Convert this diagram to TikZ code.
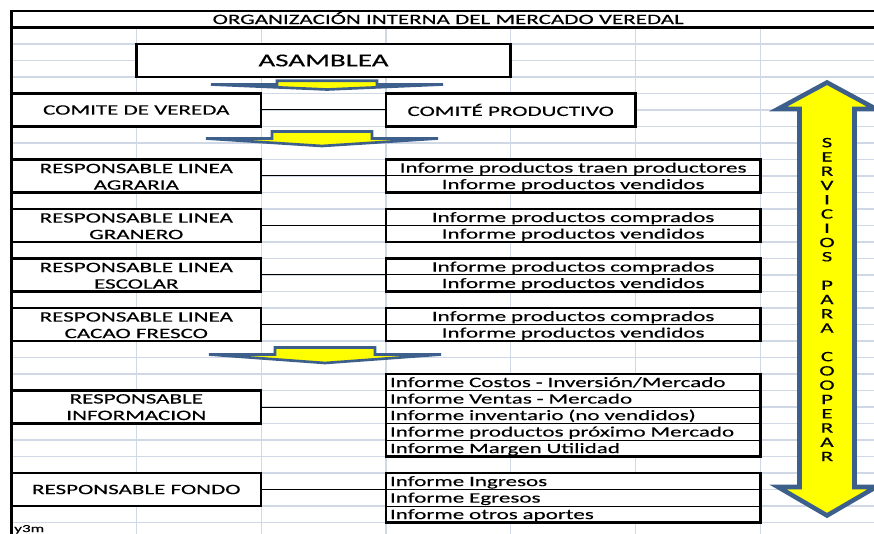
\documentclass[tikz,border=0pt]{standalone}
\usepackage{fontspec}
\setmainfont{Carlito}[FakeStretch=1.6,FakeBold=0.25]
\usetikzlibrary{positioning}

\definecolor{gridgray}{RGB}{208,215,229}
\definecolor{arrowblue}{RGB}{61,95,140}
\definecolor{arrowyellow}{RGB}{255,255,0}

\tikzset{
  cellbox/.style={draw,line width=1.9pt,fill=white,inner sep=0pt,outer sep=0pt,
    minimum width=187.2pt,minimum height=24.75pt,align=center,
    font=\fontsize{10.8}{12.4}\selectfont},
  twoline/.style={text height=22.6pt,text depth=2.15pt},
  rowcell/.style={draw,line width=0.75pt,fill=white,inner xsep=3pt,inner ysep=0pt,
    outer sep=0pt,minimum width=280.8pt,minimum height=12.375pt,text width=274.8pt,
    text height=9.8pt,text depth=2.575pt,align=center,
    font=\fontsize{10.8}{12.4}\selectfont},
  titlecell/.style={draw,line width=1.9pt,inner sep=0pt,outer sep=0pt,
    minimum width=655.1pt,minimum height=12.375pt,
    text height=9.8pt,text depth=2.575pt,font=\fontsize{10.8}{12.4}\selectfont},
  rowframe/.style={draw,line width=1.9pt},
  link/.style={draw,line width=0.75pt},
  gridline/.style={draw=gridgray,line width=0.9pt},
  flatarrow/.style={draw=arrowblue,fill=arrowyellow,line width=2pt,line join=miter},
  bigarrow/.style={draw=arrowblue,fill=arrowyellow,line width=3.4pt,line join=miter},
}

\begin{document}
\begin{tikzpicture}[x=0.75pt,y=-0.75pt]
\useasboundingbox (0,0) rectangle (874,534);
% hoja de calculo
\foreach \c in {1,...,6}
  \draw[gridline] ({11.5+124.8*\c},27.5) -- ({11.5+124.8*\c},534);
\foreach \k in {2,...,32}
  \draw[gridline] (11.5,{11+16.5*\k}) -- (874,{11+16.5*\k});
\node[titlecell] (titulo) at (448.25,19.25) {ORGANIZACIÓN INTERNA DEL MERCADO VEREDAL};
\draw[rowframe] (11.5,11) -- (11.5,534);

\node[cellbox,minimum width=280.8pt,font=\fontsize{13.6}{15}\selectfont] (asamblea) at (323.5,60.5) {ASAMBLEA};
\node[cellbox] (vereda) at (136.3,110) {COMITE DE VEREDA};
\node[cellbox] (productivo) at (510.7,110) {COMITÉ PRODUCTIVO};
\draw[link] (vereda) -- (productivo);

% lineas
\node[cellbox,twoline] (agraria) at (136.3,176) {RESPONSABLE LINEA\\AGRARIA};
\node[cellbox,twoline] (granero) at (136.3,225.5) {RESPONSABLE LINEA\\GRANERO};
\node[cellbox,twoline] (escolar) at (136.3,275) {RESPONSABLE LINEA\\ESCOLAR};
\node[cellbox,twoline] (cacao) at (136.3,324.5) {RESPONSABLE LINEA\\CACAO FRESCO};

\node[rowcell] (agraria1) at (573.1,167.75) {Informe productos traen productores};
\node[rowcell,below=0pt of agraria1] (agraria2) {Informe productos vendidos};
\node[rowcell] (granero1) at (573.1,217.25) {Informe productos comprados};
\node[rowcell,below=0pt of granero1] (granero2) {Informe productos vendidos};
\node[rowcell] (escolar1) at (573.1,266.75) {Informe productos comprados};
\node[rowcell,below=0pt of escolar1] (escolar2) {Informe productos vendidos};
\node[rowcell] (cacao1) at (573.1,316.25) {Informe productos comprados};
\node[rowcell,below=0pt of cacao1] (cacao2) {Informe productos vendidos};

\draw[link] (agraria) -- (agraria.east -| agraria1.west);
\draw[link] (granero) -- (granero.east -| granero1.west);
\draw[link] (escolar) -- (escolar.east -| escolar1.west);
\draw[link] (cacao) -- (cacao.east -| cacao1.west);
\draw[rowframe] (agraria1.north west) rectangle (agraria2.south east);
\draw[rowframe] (granero1.north west) rectangle (granero2.south east);
\draw[rowframe] (escolar1.north west) rectangle (escolar2.south east);
\draw[rowframe] (cacao1.north west) rectangle (cacao2.south east);

% informacion y fondo
\node[cellbox,twoline,text depth=2.6pt,text height=22.15pt] (informacion) at (136.3,407) {RESPONSABLE\\INFORMACION};
\node[cellbox] (fondo) at (136.3,489.5) {RESPONSABLE FONDO};

\node[rowcell,align=left] (info1) at (573.1,382.25) {Informe Costos - Inversión/Mercado};
\node[rowcell,align=left,below=0pt of info1] (info2) {Informe Ventas - Mercado};
\node[rowcell,align=left,below=0pt of info2] (info3) {Informe inventario (no vendidos)};
\node[rowcell,align=left,below=0pt of info3] (info4) {Informe productos próximo Mercado};
\node[rowcell,align=left,below=0pt of info4] (info5) {Informe Margen Utilidad};
\node[rowcell,align=left] (fondo1) at (573.1,481.25) {Informe Ingresos};
\node[rowcell,align=left,below=0pt of fondo1] (fondo2) {Informe Egresos};
\node[rowcell,align=left,below=0pt of fondo2] (fondo3) {Informe otros aportes};

\draw[link] (informacion) -- (informacion.east -| info1.west);
\draw[link] (fondo) -- (fondo.east -| fondo1.west);
\draw[rowframe] (info1.north west) rectangle (info5.south east);
\draw[rowframe] (fondo1.north west) rectangle (fondo3.south east);

% flechas
\foreach \cx/\ya/\yb/\yc in {327/80.8/84.5/89.5, 322/131.5/138.5/146, 325/347.5/354.5/363}
  \draw[flatarrow] ({\cx-50},\ya) -- ({\cx+50},\ya) -- ({\cx+50},\yb) -- ({\cx+116},\yb)
    -- (\cx,\yc) -- ({\cx-116},\yb) -- ({\cx-50},\yb) -- cycle;

\draw[bigarrow] (827,82.5) -- (876,109) -- (854.5,109) -- (854.5,487) -- (876,487)
  -- (827,515.5) -- (778,487) -- (799.5,487) -- (799.5,109) -- (778,109) -- cycle;
\node[align=center,inner sep=0pt,font=\fontsize{10.8}{10.7}\selectfont] (servicios) at (827,299.5)
  {S\\E\\R\\V\\I\\C\\I\\O\\S\\~\\P\\A\\R\\A\\~\\C\\O\\O\\P\\E\\R\\A\\R};

\node[anchor=base west,inner sep=0pt,font=\fontsize{8}{9}\selectfont] (nota) at (14,532) {y3m};
\end{tikzpicture}
\end{document}
